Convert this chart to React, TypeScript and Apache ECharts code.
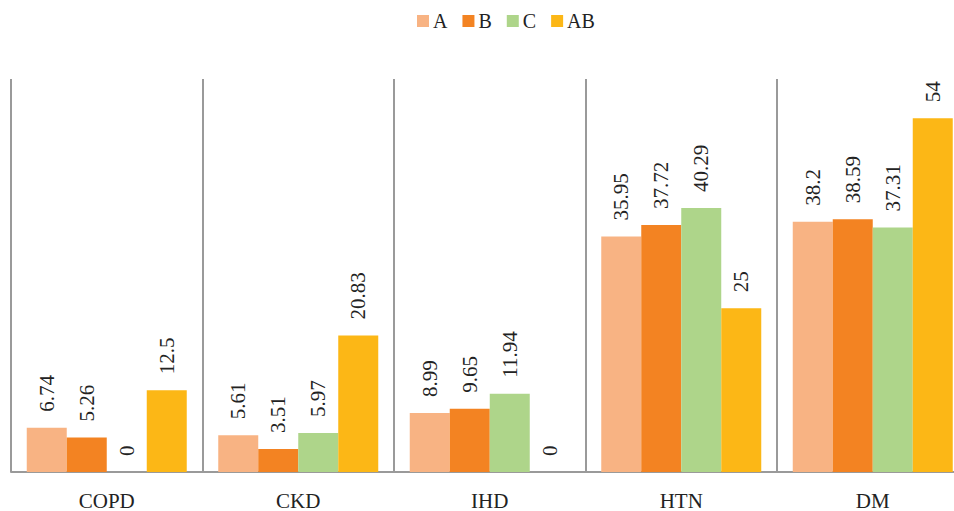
import React, { useEffect, useRef } from "react";
import * as echarts from "echarts";

const categories = ["COPD", "CKD", "IHD", "HTN", "DM"];
const seriesNames = ["A", "B", "C", "AB"];
const valuesA = [6.74, 5.61, 8.99, 35.95, 38.2];
const valuesB = [5.26, 3.51, 9.65, 37.72, 38.59];
const valuesC = [0, 5.97, 11.94, 40.29, 37.31];
const valuesAB = [12.5, 20.83, 0, 25, 54];
const colors = ["#F8B383", "#F38322", "#AED58A", "#FCB716"];

const FONT = "'Liberation Serif', 'Times New Roman', serif";

export default function App() {
  const ref = useRef<HTMLDivElement>(null);
  useEffect(() => {
    document.body.style.margin = "0";
    document.body.style.overflow = "hidden";
    document.documentElement.style.overflow = "hidden";
    if (!ref.current) return;
    const chart = echarts.init(ref.current, null, { renderer: "svg" });
    const data = [valuesA, valuesB, valuesC, valuesAB];
    chart.setOption({
      animation: false,
      textStyle: { fontFamily: FONT },
      legend: {
        top: 6,
        left: 412,
        itemWidth: 12,
        itemHeight: 12,
        itemGap: 15,
        icon: "rect",
        data: seriesNames,
        textStyle: { fontFamily: FONT, fontSize: 20, color: "#222", padding: [0, 0, 0, -1] },
      },
      grid: { left: 11, top: 79, right: 0.5, bottom: 39, containLabel: false },
      xAxis: {
        type: "category",
        data: categories,
        boundaryGap: true,
        axisLine: { show: true, lineStyle: { color: "#9a9a9a", width: 2 } },
        axisTick: { show: false },
        splitLine: { show: true, interval: 0, lineStyle: { color: "#9a9a9a", width: 2 } },
        axisLabel: { fontFamily: FONT, fontSize: 21, color: "#222", margin: 18, interval: 0 },
      },
      yAxis: {
        type: "value",
        min: 0,
        max: 60,
        show: false,
        splitLine: { show: false },
      },
      series: seriesNames.map((name, i) => ({
        name,
        type: "bar",
        data: data[i],
        barWidth: 40,
        barGap: "0%",
        itemStyle: { color: colors[i] },
        label: {
          show: true,
          position: "top",
          rotate: 90,
          align: "left",
          verticalAlign: "middle",
          distance: 16,
          fontFamily: FONT,
          fontSize: 21,
          color: "#222",
          formatter: (p: any) => String(p.value),
        },
      })),
    });
    return () => chart.dispose();
  }, []);
  return <div ref={ref} style={{ width: 969, height: 511 }} />;
}
